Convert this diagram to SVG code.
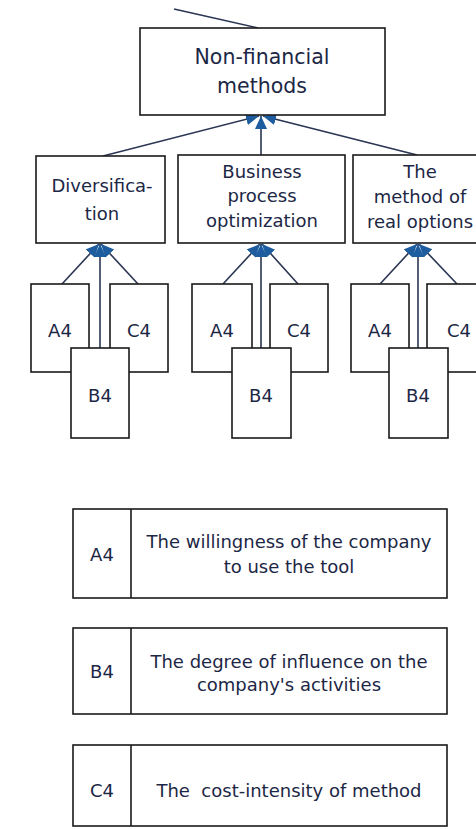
<svg xmlns="http://www.w3.org/2000/svg" width="476" height="829" viewBox="0 0 476 829">
<style>
.box{fill:#fff;stroke:#1a1a1a;stroke-width:1.6}
.t{font-family:"DejaVu Sans",sans-serif;font-size:18px;fill:#1c2745;text-anchor:middle}
.tl{font-size:20.5px}
.c{stroke:#2a3552;stroke-width:1.6;fill:none}
.ca{stroke:#2a3552;stroke-width:1.6;fill:none;marker-end:url(#ah)}
</style>
<defs>
<marker id="ah" markerUnits="userSpaceOnUse" markerWidth="16" markerHeight="14" refX="13" refY="6" orient="auto">
<path d="M0,0 L13,6 L0,12 z" fill="#1d5c9e"/>
</marker>
</defs>
<rect width="476" height="829" fill="#fff"/>
<g id="connectors">
<line class="c" x1="174" y1="9" x2="258" y2="28"/>
<line class="ca" x1="103" y1="156" x2="259" y2="116"/>
<line class="ca" x1="261" y1="155" x2="261" y2="116"/>
<line class="ca" x1="417" y1="155" x2="263" y2="116"/>
<line class="ca" x1="62" y1="284" x2="99" y2="244"/>
<line class="ca" x1="100" y1="348" x2="100" y2="244"/>
<line class="ca" x1="138" y1="284" x2="101" y2="244"/>
<line class="ca" x1="223" y1="284" x2="260" y2="244"/>
<line class="ca" x1="261" y1="348" x2="261" y2="244"/>
<line class="ca" x1="298" y1="284" x2="262" y2="244"/>
<line class="ca" x1="380" y1="284" x2="417" y2="244"/>
<line class="ca" x1="418" y1="348" x2="418" y2="244"/>
<line class="ca" x1="457" y1="284" x2="419" y2="244"/>
</g>
<g id="nonfinancial">
<rect class="box" x="140" y="28" width="245" height="87"/>
<text class="t tl" x="262" y="64">Non-financial</text>
<text class="t tl" x="262" y="93">methods</text>
</g>
<g id="diversification">
<rect class="box" x="36" y="156" width="129" height="87"/>
<text class="t" x="102" y="192">Diversifica-</text>
<text class="t" x="102" y="220">tion</text>
</g>
<g id="business">
<rect class="box" x="178" y="155" width="167" height="88"/>
<text class="t" x="262" y="178">Business</text>
<text class="t" x="262" y="202">process</text>
<text class="t" x="262" y="227">optimization</text>
</g>
<g id="realoptions">
<rect class="box" x="353" y="155" width="130" height="88"/>
<text class="t" x="420" y="178">The</text>
<text class="t" x="420" y="203">method of</text>
<text class="t" x="420" y="228">real options</text>
</g>
<g id="g1-a4"><rect class="box" x="31" y="284" width="58" height="88"/><text class="t" x="60" y="337">A4</text></g>
<g id="g1-c4"><rect class="box" x="110" y="284" width="58" height="88"/><text class="t" x="139" y="337">C4</text></g>
<g id="g1-b4"><rect class="box" x="71" y="348" width="58" height="90"/><text class="t" x="100" y="402">B4</text></g>
<g id="g2-a4"><rect class="box" x="192" y="284" width="60" height="88"/><text class="t" x="222" y="337">A4</text></g>
<g id="g2-c4"><rect class="box" x="270" y="284" width="58" height="88"/><text class="t" x="299" y="337">C4</text></g>
<g id="g2-b4"><rect class="box" x="232" y="348" width="59" height="90"/><text class="t" x="261" y="402">B4</text></g>
<g id="g3-a4"><rect class="box" x="351" y="284" width="58" height="88"/><text class="t" x="380" y="337">A4</text></g>
<g id="g3-c4"><rect class="box" x="427" y="284" width="58" height="88"/><text class="t" x="459" y="337">C4</text></g>
<g id="g3-b4"><rect class="box" x="389" y="348" width="59" height="90"/><text class="t" x="418" y="402">B4</text></g>
<g id="legend-a4">
<rect class="box" x="73" y="509" width="374" height="89"/>
<line class="box" x1="131" y1="509" x2="131" y2="598"/>
<text class="t" x="102" y="561">A4</text>
<text class="t" x="289" y="548">The willingness of the company</text>
<text class="t" x="289" y="573">to use the tool</text>
</g>
<g id="legend-b4">
<rect class="box" x="73" y="628" width="374" height="86"/>
<line class="box" x1="131" y1="628" x2="131" y2="714"/>
<text class="t" x="102" y="678">B4</text>
<text class="t" x="289" y="668">The degree of influence on the</text>
<text class="t" x="289" y="691">company's activities</text>
</g>
<g id="legend-c4">
<rect class="box" x="73" y="745" width="374" height="81"/>
<line class="box" x1="131" y1="745" x2="131" y2="826"/>
<text class="t" x="102" y="797">C4</text>
<text class="t" x="289" y="797" xml:space="preserve">The  cost-intensity of method</text>
</g>
</svg>
